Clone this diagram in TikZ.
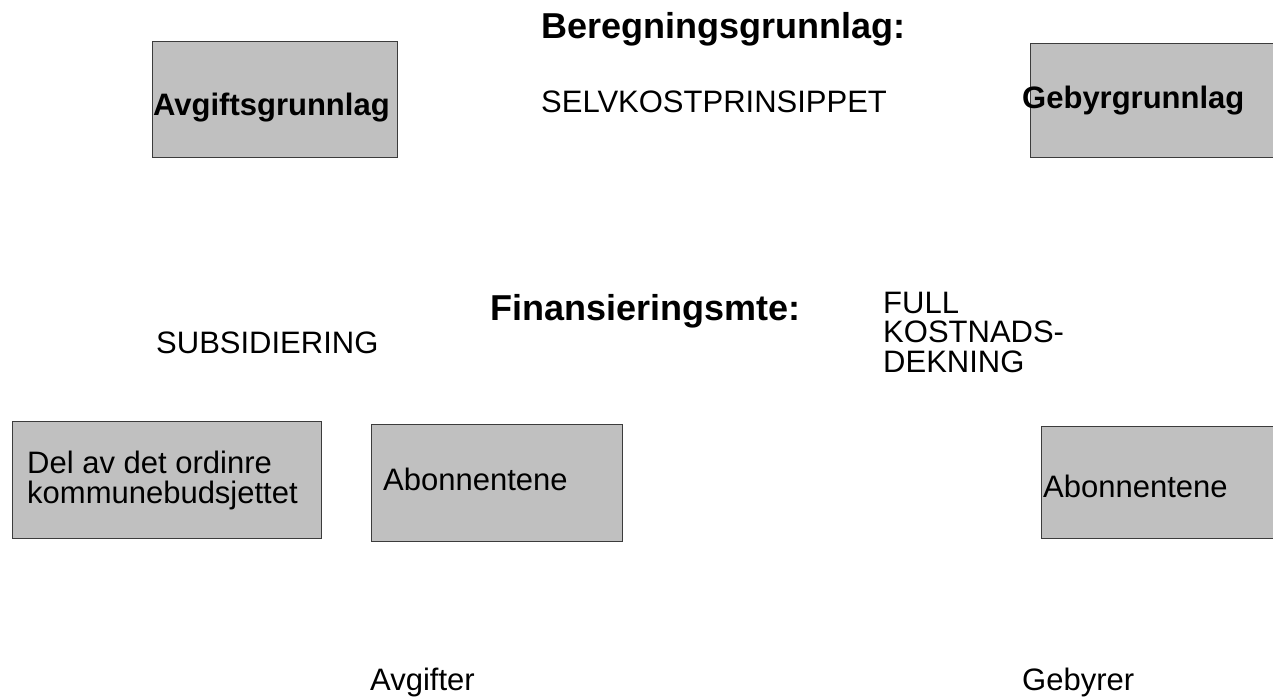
\documentclass[tikz,border=0pt]{standalone}
\usepackage{fontspec}
\setmainfont{Liberation Sans}
\usepackage{xcolor}
\usepackage{tikz}
\usetikzlibrary{positioning}
\definecolor{boxgray}{RGB}{192,192,192}
\definecolor{edgegray}{RGB}{60,60,60}
\tikzstyle{panel} = [rectangle, draw=edgegray, fill=boxgray, line width=1pt, inner sep=0pt]

\begin{document}
\begin{tikzpicture}[
    x=1pt, y=-1pt,
    panel/.style={rectangle, draw=edgegray, fill=boxgray, line width=1pt, inner sep=0pt},
    heading/.style={anchor=base west, inner sep=0pt, font=\fontsize{36}{36}\selectfont\bfseries},
    boxtitle/.style={anchor=base west, inner sep=0pt, font=\fontsize{31}{31}\selectfont\bfseries},
    plain/.style={anchor=base west, inner sep=0pt, font=\fontsize{31}{30}\selectfont, align=left}
]
    \useasboundingbox (0,0) rectangle (1273,699);
    \clip (0,0) rectangle (1273,699);

    % Grey boxes (right-hand ones run off the page)
    \node[panel, minimum width=245pt, minimum height=116pt] (avgbox) at (274.5,99) {};
    \node[panel, minimum width=270pt, minimum height=114pt] (gebbox) at (1165,100) {};
    \node[panel, minimum width=309pt, minimum height=117pt] (delbox) at (166.5,479.5) {};
    \node[panel, minimum width=251pt, minimum height=117pt] (abobox) at (496.5,482.5) {};
    \node[panel, minimum width=259pt, minimum height=112pt] (abobox2) at (1170.5,482) {};

    % Top row
    \node[heading] (beregning) at (541,38) {Beregningsgrunnlag:};
    \node[plain] (selvkost) at (541,112) {SELVKOSTPRINSIPPET};
    \node[boxtitle] (avgift) at (153,115) {Avgiftsgrunnlag};
    \node[boxtitle] (gebyr) at (1022,108) {Gebyrgrunnlag};

    % Middle row (multi-line nodes sit on their last baseline)
    \node[heading] (finans) at (490,320) {Finansieringsmte:};
    \node[plain] (subsid) at (156,353) {SUBSIDIERING};
    \node[plain, font=\fontsize{31}{29.5}\selectfont] (full) at (883,372) {FULL\\KOSTNADS-\\DEKNING};

    % Box texts
    \node[plain] (delav) at (27,503) {Del av det ordinre\\kommunebudsjettet};
    \node[plain] (abonn) at (383,490) {Abonnentene};
    \node[plain] (abonn2) at (1043,497) {Abonnentene};

    % Bottom labels
    \node[plain] (avgifter) at (370,690) {Avgifter};
    \node[plain] (gebyrer) at (1022,690) {Gebyrer};

\end{tikzpicture}
\end{document}
